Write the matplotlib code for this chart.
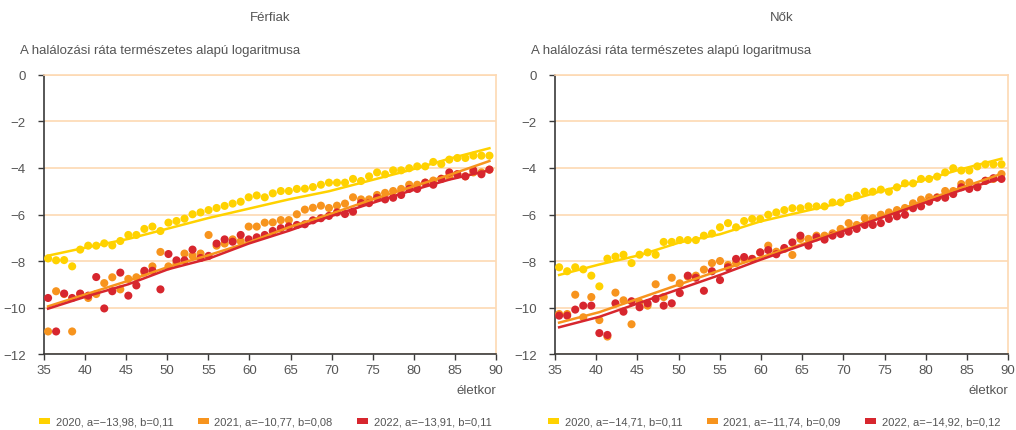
import numpy as np
import matplotlib
matplotlib.use("Agg")
import matplotlib.pyplot as plt
from matplotlib.patches import Patch

plt.rcParams['font.family'] = ['Liberation Sans', 'DejaVu Sans']

# Data
ages = list(range(35, 91))
fit_ages = [35, 40, 45, 50, 55, 60, 65, 70, 75, 80, 85, 90]
years = ["2020", "2021", "2022"]

# Férfiak - log death rate by age
men_2020 = [-7.89, -7.97, -7.96, -8.23, -7.51, -7.34, -7.34, -7.24, -7.33, -7.14,
            -6.88, -6.88, -6.62, -6.52, -6.71, -6.35, -6.28, -6.18, -5.99, -5.91,
            -5.81, -5.72, -5.63, -5.53, -5.45, -5.26, -5.18, -5.26, -5.09,
            -4.99, -4.99, -4.90, -4.89, -4.82, -4.72, -4.63, -4.63, -4.63, -4.47,
            -4.56, -4.36, -4.19, -4.27, -4.10, -4.10, -4.01, -3.93, -3.93, -3.74,
            -3.83, -3.64, -3.57, -3.57, -3.47, -3.47, -3.47]
men_2021 = [-11.03, -9.30, -9.42, -11.03, -9.42, -9.59, -9.42, -8.95, -8.70, -9.22,
            -8.77, -8.70, -8.49, -8.23, -7.61, -8.23, -8.09, -7.68, -7.77, -7.68,
            -6.88, -7.34, -7.25, -7.07, -7.15, -6.52, -6.52, -6.35, -6.34,
            -6.24, -6.24, -5.99, -5.79, -5.71, -5.62, -5.72, -5.62, -5.53, -5.26,
            -5.35, -5.35, -5.16, -5.07, -4.99, -4.90, -4.72, -4.72, -4.63, -4.54,
            -4.46, -4.36, -4.27, -4.36, -4.19, -4.19, -4.07]
men_2022 = [-9.59, -11.03, -9.40, -9.59, -9.40, -9.49, -8.69, -10.04, -9.30, -8.50,
            -9.49, -9.05, -8.42, -8.42, -9.22, -7.70, -7.97, -7.97, -7.51, -7.87,
            -7.78, -7.25, -7.07, -7.17, -6.88, -7.07, -6.98, -6.88, -6.71,
            -6.59, -6.51, -6.45, -6.42, -6.25, -6.16, -6.06, -5.91, -5.98, -5.88,
            -5.51, -5.51, -5.28, -5.35, -5.28, -5.16, -4.90, -4.90, -4.63, -4.72,
            -4.47, -4.19, -4.27, -4.36, -4.10, -4.27, -4.07]
men_fit_2020 = [-7.77, -7.40, -7.05, -6.60, -6.15, -5.75, -5.35, -5.00, -4.55, -4.10, -3.60, -3.15]
men_fit_2021 = [-9.95, -9.40, -8.85, -8.25, -7.75, -7.20, -6.55, -6.00, -5.40, -4.85, -4.30, -3.70]
men_fit_2022 = [-10.05, -9.50, -9.00, -8.35, -7.90, -7.25, -6.70, -6.10, -5.55, -5.00, -4.50, -4.10]

# Nők
women_2020 = [-8.27, -8.44, -8.27, -8.36, -8.63, -9.09, -7.90, -7.81, -7.73, -8.09,
              -7.73, -7.63, -7.73, -7.18, -7.18, -7.10, -7.10, -7.10, -6.91, -6.82,
              -6.55, -6.37, -6.55, -6.28, -6.19, -6.19, -6.01, -5.91, -5.81,
              -5.73, -5.73, -5.65, -5.65, -5.65, -5.48, -5.48, -5.28, -5.19, -5.02,
              -5.02, -4.93, -5.02, -4.83, -4.66, -4.66, -4.47, -4.47, -4.37, -4.19,
              -4.01, -4.11, -4.11, -3.93, -3.84, -3.84, -3.84]
women_2021 = [-10.28, -10.28, -9.45, -10.42, -9.55, -10.54, -11.25, -9.36, -9.69, -10.72,
              -9.78, -9.92, -9.00, -9.55, -8.72, -8.96, -8.67, -8.63, -8.37, -8.09,
              -8.00, -8.17, -8.09, -7.91, -7.91, -7.63, -7.34, -7.60, -7.48,
              -7.74, -7.05, -7.05, -6.91, -6.91, -6.81, -6.62, -6.37, -6.45, -6.16,
              -6.16, -6.01, -5.91, -5.81, -5.72, -5.52, -5.36, -5.26, -5.26, -4.99,
              -4.99, -4.69, -4.62, -4.80, -4.55, -4.47, -4.26]
women_2022 = [-10.35, -10.35, -10.09, -9.92, -9.92, -11.10, -11.18, -9.82, -10.18, -9.73,
              -9.99, -9.82, -9.63, -9.92, -9.82, -9.38, -8.63, -8.72, -9.28, -8.44,
              -8.82, -8.27, -7.91, -7.83, -7.91, -7.63, -7.53, -7.71, -7.44,
              -7.20, -6.91, -7.34, -6.98, -7.08, -6.91, -6.84, -6.74, -6.62, -6.45,
              -6.45, -6.37, -6.19, -6.08, -6.01, -5.73, -5.65, -5.45, -5.28, -5.28,
              -5.12, -4.83, -4.90, -4.83, -4.55, -4.44, -4.47]
women_fit_2020 = [-8.60, -8.15, -7.75, -7.20, -6.85, -6.30, -5.90, -5.50, -5.00, -4.55, -4.05, -3.60]
women_fit_2021 = [-10.65, -10.20, -9.60, -9.00, -8.40, -7.85, -7.30, -6.70, -6.10, -5.45, -4.85, -4.25]
women_fit_2022 = [-10.85, -10.40, -9.80, -9.20, -8.60, -7.95, -7.35, -6.75, -6.15, -5.55, -4.95, -4.45]

men_labels = ["2020, a=−13,98, b=0,11", "2021, a=−10,77, b=0,08", "2022, a=−13,91, b=0,11"]
women_labels = ["2020, a=−14,71, b=0,11", "2021, a=−11,74, b=0,09", "2022, a=−14,92, b=0,12"]

COLORS = ["#FFD200", "#F7941E", "#D7262E"]
GRID = "#FDD9B3"
AXIS = "#3a3a3a"
TEXT = "#555555"
FS = 9.5

fig = plt.figure(figsize=(10.16, 4.31), dpi=100)

panels = [
    ("Férfiak", [0.0433, 0.1763, 0.4449, 0.6474], [men_2020, men_2021, men_2022],
     [men_fit_2020, men_fit_2021, men_fit_2022], men_labels, 20, 0.261),
    ("Nők", [0.5463, 0.1763, 0.4459, 0.6474], [women_2020, women_2021, women_2022],
     [women_fit_2020, women_fit_2021, women_fit_2022], women_labels, 531, 0.762),
]

for title, rect, series, fits, labels, ylab_x, leg_x in panels:
    ax = fig.add_axes(rect)
    ax.set_xlim(35, 90)
    ax.set_ylim(-12, 0)
    ax.set_xticks(range(35, 91, 5))
    ax.set_yticks(range(-12, 1, 2))
    ax.yaxis.grid(True, color=GRID, lw=1.2)
    ax.set_axisbelow(True)
    for s in ["left", "bottom"]:
        ax.spines[s].set_color(AXIS)
        ax.spines[s].set_linewidth(1.2)
    for s in ["top", "right"]:
        ax.spines[s].set_color(GRID)
        ax.spines[s].set_linewidth(1.2)
    ax.tick_params(direction="out", length=4, width=1, color=AXIS,
                   labelcolor=TEXT, labelsize=FS)
    ax.tick_params(axis="y", pad=9)
    ax.tick_params(axis="x", pad=3)

    # points sit slightly inside the age axis, so draw them on a hidden twin x-axis
    axd = ax.twiny()
    axd.set_xlim(34.49, 90.82)
    axd.axis("off")
    for vals, fit, c in zip(series, fits, COLORS):
        axd.scatter(ages, vals, s=34, color=c, edgecolors="none", zorder=3)
        axd.plot(fit_ages, fit, color=c, lw=1.8, zorder=4)

    x0, y0, w, h = rect
    fig.text(x0 + w / 2, 1 - 18 / 431, title, ha="center", va="center",
             fontsize=FS, color=TEXT)
    fig.text(ylab_x / 1016, 1 - 51 / 431, "A halálozási ráta természetes alapú logaritmusa",
             ha="left", va="center", fontsize=FS, color=TEXT)
    fig.text(x0 + w, 1 - 391 / 431, "életkor", ha="right", va="center",
             fontsize=FS, color=TEXT)

    handles = [Patch(facecolor=c, edgecolor="none") for c in COLORS]
    fig.legend(handles, labels, loc="center", bbox_to_anchor=(leg_x, 1 - 423 / 431),
               ncol=3, frameon=False, fontsize=8, labelcolor=TEXT,
               handlelength=1.0, handleheight=0.45, handletextpad=0.5,
               columnspacing=2.2, borderaxespad=0)

fig.savefig("out.png", dpi=100)
